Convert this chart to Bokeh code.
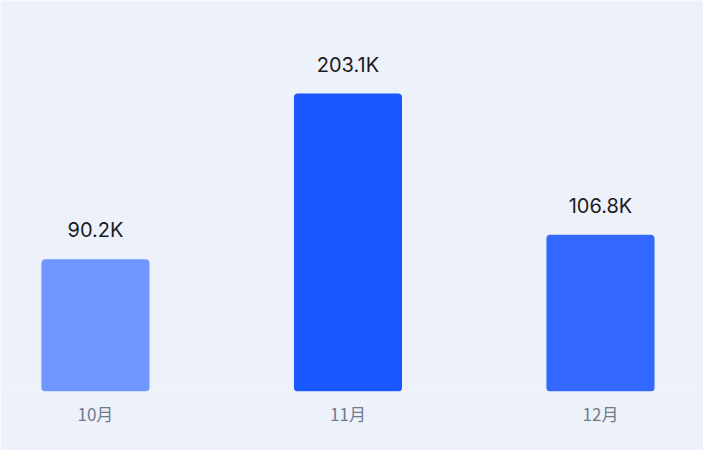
from bokeh.plotting import figure
from bokeh.models import ColumnDataSource, Range1d, FixedTicker
from bokeh.core.properties import value
from bokeh.embed import file_html
from bokeh.resources import INLINE

months = ["10月", "11月", "12月"]
values_k = [90.2, 203.1, 106.8]
labels = ["90.2K", "203.1K", "106.8K"]
colors = ["#7096FF", "#1A58FF", "#3268FF"]

xs = list(range(len(months)))
src = ColumnDataSource(dict(x=xs, top=values_k, label=labels, color=colors))

p = figure(width=703, height=450, output_backend="svg", toolbar_location=None,
           x_range=Range1d(-0.376, 2.408), y_range=Range1d(0, 266.5),
           min_border_left=0, min_border_right=0, min_border_top=0, min_border_bottom=59)
p.background_fill_color = "#EDF1FA"
p.border_fill_color = "#EDF1FA"
p.outline_line_color = None
p.grid.visible = False
p.yaxis.visible = False

p.vbar(x="x", top="top", bottom=0, width=0.428, fill_color="color", line_color=None,
       border_radius=4, source=src)
p.text(x="x", y="top", text="label", source=src, y_offset=-29,
       text_align="center", text_baseline="middle", text_font_size="20px",
       text_font=value("Inter"), text_color="#1B1B1F")

p.xaxis.ticker = FixedTicker(ticks=xs)
p.xaxis.major_label_overrides = {i: m for i, m in zip(xs, months)}
p.xaxis.axis_line_color = None
p.xaxis.major_tick_line_color = None
p.xaxis.minor_tick_line_color = None
p.xaxis.major_label_standoff = 3
p.xaxis.major_label_text_font = "Noto Sans CJK SC"
p.xaxis.major_label_text_font_size = "17px"
p.xaxis.major_label_text_color = "#6E7B8C"

open("out.html", "w").write(file_html(p, INLINE))
